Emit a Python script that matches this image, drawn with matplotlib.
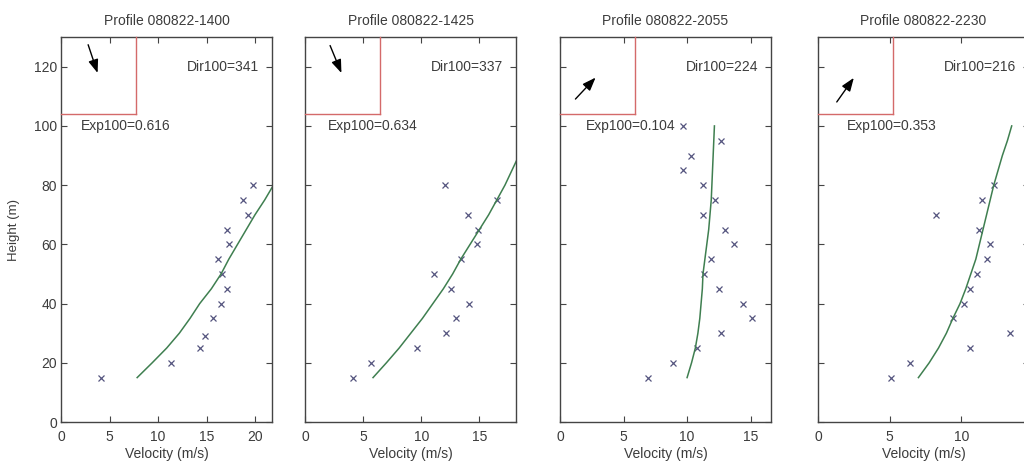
import numpy as np
import matplotlib
matplotlib.use("Agg")
import matplotlib.pyplot as plt

plt.rcParams['font.family'] = ['Liberation Sans', 'DejaVu Sans']

# Profile names, fitted exponents and directions at 100 m
profiles = ["080822-1400", "080822-1425", "080822-2055", "080822-2230"]
exp100 = [0.616, 0.634, 0.104, 0.353]
dir100 = [341, 337, 224, 216]

# Measured velocities (m/s) and heights (m), one list per profile
p1_vel = [4.1, 11.3, 14.3, 14.8, 15.7, 16.5, 17.1, 16.6, 16.15, 17.35, 17.1, 19.3, 18.8, 19.75]
p1_hgt = [15, 20, 25, 29, 35, 40, 45, 50, 55, 60, 65, 70, 75, 80]
p2_vel = [4.1, 5.7, 9.6, 12.1, 13.0, 14.1, 12.6, 11.1, 13.4, 14.8, 14.9, 14.0, 16.5, 12.0]
p2_hgt = [15, 20, 25, 30, 35, 40, 45, 50, 55, 60, 65, 70, 75, 80]
p3_vel = [6.9, 8.86, 10.8, 12.7, 15.1, 14.4, 12.5, 11.3, 11.9, 13.7, 13.0, 11.25,
          12.2, 11.25, 9.66, 10.3, 12.7, 9.7]
p3_hgt = [15, 20, 25, 30, 35, 40, 45, 50, 55, 60, 65, 70, 75, 80, 85, 90, 95, 100]
p4_vel = [5.07, 6.4, 10.6, 13.35, 9.4, 10.2, 10.6, 11.1, 11.8, 12.0, 11.25, 8.2, 11.4, 12.25]
p4_hgt = [15, 20, 25, 30, 35, 40, 45, 50, 55, 60, 65, 70, 75, 80]

# Power law fit curves
fit1_vel = [7.85, 9.4, 10.9, 12.2, 13.3, 14.3, 15.5, 16.5, 17.3, 18.2, 19.1, 20.0, 21.0, 21.9]
fit1_hgt = [15, 20, 25, 30, 35, 40, 45, 50, 55, 60, 65, 70, 75, 80]
fit2_vel = [5.85, 7.0, 8.1, 9.1, 10.1, 11.0, 11.9, 12.7, 13.4, 14.2, 15.0, 15.8,
            16.5, 17.2, 17.8, 18.4]
fit2_hgt = [15, 20, 25, 30, 35, 40, 45, 50, 55, 60, 65, 70, 75, 80, 85, 90]
fit3_vel = [10.0, 10.35, 10.65, 10.85, 11.0, 11.1, 11.2, 11.25, 11.4, 11.55, 11.7,
            11.8, 11.9, 11.95, 12.0, 12.05, 12.1, 12.15]
fit3_hgt = [15, 20, 25, 30, 35, 40, 45, 50, 55, 60, 65, 70, 75, 80, 85, 90, 95, 100]
fit4_vel = [7.0, 7.75, 8.4, 8.95, 9.4, 9.9, 10.3, 10.65, 11.0, 11.25, 11.5, 11.75,
            12.0, 12.25, 12.55, 12.85, 13.2, 13.5]
fit4_hgt = [15, 20, 25, 30, 35, 40, 45, 50, 55, 60, 65, 70, 75, 80, 85, 90, 95, 100]

meas = [(p1_vel, p1_hgt), (p2_vel, p2_hgt), (p3_vel, p3_hgt), (p4_vel, p4_hgt)]
fits = [(fit1_vel, fit1_hgt), (fit2_vel, fit2_hgt), (fit3_vel, fit3_hgt), (fit4_vel, fit4_hgt)]
xmax = [21.75, 18.15, 16.6, 14.7]

txt = '#3c3c3c'
fig = plt.figure(figsize=(10.24, 4.66), dpi=100)
lefts = [0.0596, 0.2979, 0.5469, 0.7988]

for i in range(4):
    ax = fig.add_axes([lefts[i], 0.0944, 0.206, 0.826])
    v, h = meas[i]
    ax.plot(v, h, 'x', color='#55557f', markersize=5, markeredgewidth=0.9)
    fv, fh = fits[i]
    ax.plot(fv, fh, '-', color='#3f7f50', linewidth=1.1)

    ax.set_xlim(0, xmax[i])
    ax.set_ylim(0, 130)
    ax.set_xticks([t for t in [0, 5, 10, 15, 20] if t <= xmax[i]])
    ax.set_yticks([0, 20, 40, 60, 80, 100, 120])
    ax.tick_params(direction='in', top=True, right=True, length=4, width=0.8,
                   colors='#444444', labelcolor=txt, labelsize=10)
    ax.tick_params(axis='x', pad=6)
    ax.tick_params(axis='y', pad=3)
    for s in ax.spines.values():
        s.set_color('#444444')
        s.set_linewidth(1.0)
    if i > 0:
        ax.set_yticklabels([])
    else:
        ax.set_ylabel('Height (m)', color=txt, fontsize=9.5, labelpad=10)
    ax.set_xlabel('Velocity (m/s)', color=txt, fontsize=10, labelpad=2)
    ax.set_title('Profile ' + profiles[i], color=txt, fontsize=10, pad=9)

    ax.text(0.94, 120, 'Dir100=%d' % dir100[i], color=txt, fontsize=10,
            ha='right', va='center', transform=ax.get_yaxis_transform())
    ax.text(2, 100, 'Exp100=%.3f' % exp100[i], color=txt, fontsize=10,
            ha='left', va='center')

    # wind direction box in the top left corner
    ins = ax.inset_axes([0, 0.8, 0.355, 0.2])
    ins.set_xlim(-1, 1)
    ins.set_ylim(-1, 1)
    ins.set_xticks([])
    ins.set_yticks([])
    ins.patch.set_alpha(0)
    ins.spines['left'].set_visible(False)
    ins.spines['top'].set_visible(False)
    ins.spines['right'].set_color('#d46a6a')
    ins.spines['bottom'].set_color('#d46a6a')
    ins.spines['right'].set_linewidth(1.0)
    ins.spines['bottom'].set_linewidth(1.0)
    to = np.radians(dir100[i] - 180)
    L = 0.92
    ins.annotate('', xy=(0, 0), xytext=(-L * np.sin(to), -L * np.cos(to)),
                 arrowprops=dict(arrowstyle='-|>,head_length=0.8,head_width=0.3',
                                 color='black', linewidth=1.0))

fig.savefig('out.png', dpi=100)
